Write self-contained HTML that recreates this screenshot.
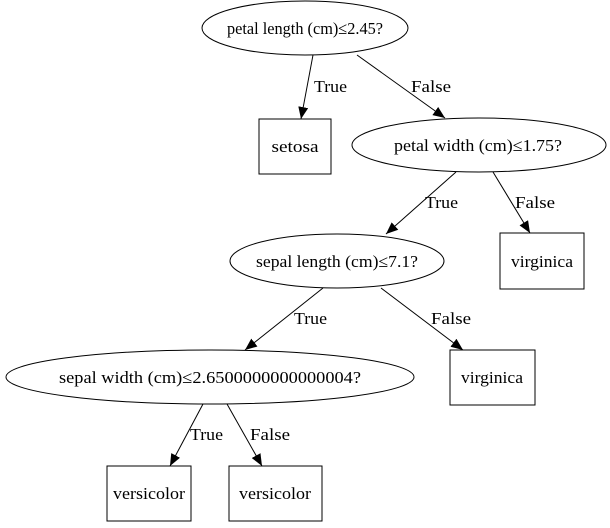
<!DOCTYPE html>
<html><head><meta charset="utf-8"><style>html,body{margin:0;padding:0;background:#fff}</style></head>
<body>
<svg width="610" height="523" viewBox="0 0 610 523" xmlns="http://www.w3.org/2000/svg" font-family="Liberation Serif, serif" font-size="17">
<defs><marker id="a" markerWidth="12" markerHeight="10" refX="12" refY="5" orient="auto" markerUnits="userSpaceOnUse"><path d="M0,0 L12,5 L0,10 z" fill="#000"/></marker></defs>
<g fill="none" stroke="#000" stroke-width="1">
<ellipse cx="305" cy="28" rx="103" ry="27"/>
<rect x="259" y="119" width="72" height="55"/>
<ellipse cx="479" cy="145" rx="127" ry="27"/>
<ellipse cx="337" cy="261" rx="107" ry="27"/>
<rect x="500" y="233" width="84" height="56"/>
<ellipse cx="210" cy="377" rx="204" ry="27"/>
<rect x="450" y="350" width="85" height="55"/>
<rect x="107" y="466" width="84" height="55"/>
<rect x="229" y="466" width="93" height="55"/>
<line x1="313" y1="55" x2="301" y2="119" marker-end="url(#a)"/>
<line x1="357" y1="55" x2="445" y2="118" marker-end="url(#a)"/>
<line x1="456" y1="172" x2="386" y2="234" marker-end="url(#a)"/>
<line x1="493" y1="172" x2="530" y2="233" marker-end="url(#a)"/>
<line x1="323" y1="288" x2="245" y2="350" marker-end="url(#a)"/>
<line x1="381" y1="288" x2="463" y2="350" marker-end="url(#a)"/>
<line x1="203" y1="404" x2="170" y2="466" marker-end="url(#a)"/>
<line x1="227" y1="404" x2="262" y2="466" marker-end="url(#a)"/>
</g>
<g fill="#000" text-anchor="middle">
<text x="305" y="34" textLength="156" lengthAdjust="spacingAndGlyphs">petal length (cm)≤2.45?</text>
<text x="295" y="152" textLength="47" lengthAdjust="spacingAndGlyphs">setosa</text>
<text x="478" y="151" textLength="168" lengthAdjust="spacingAndGlyphs">petal width (cm)≤1.75?</text>
<text x="337" y="267" textLength="162" lengthAdjust="spacingAndGlyphs">sepal length (cm)≤7.1?</text>
<text x="542" y="267" textLength="62" lengthAdjust="spacingAndGlyphs">virginica</text>
<text x="210" y="383" textLength="302" lengthAdjust="spacingAndGlyphs">sepal width (cm)≤2.6500000000000004?</text>
<text x="492" y="383" textLength="62" lengthAdjust="spacingAndGlyphs">virginica</text>
<text x="149" y="499" textLength="72" lengthAdjust="spacingAndGlyphs">versicolor</text>
<text x="275" y="499" textLength="72" lengthAdjust="spacingAndGlyphs">versicolor</text>
</g>
<g fill="#000">
<text x="314" y="92" textLength="33" lengthAdjust="spacingAndGlyphs">True</text>
<text x="411" y="92" textLength="40" lengthAdjust="spacingAndGlyphs">False</text>
<text x="425" y="208" textLength="33" lengthAdjust="spacingAndGlyphs">True</text>
<text x="515" y="208" textLength="40" lengthAdjust="spacingAndGlyphs">False</text>
<text x="294" y="324" textLength="33" lengthAdjust="spacingAndGlyphs">True</text>
<text x="431" y="324" textLength="40" lengthAdjust="spacingAndGlyphs">False</text>
<text x="190" y="440" textLength="33" lengthAdjust="spacingAndGlyphs">True</text>
<text x="250" y="440" textLength="40" lengthAdjust="spacingAndGlyphs">False</text>
</g>
</svg>
</body></html>
